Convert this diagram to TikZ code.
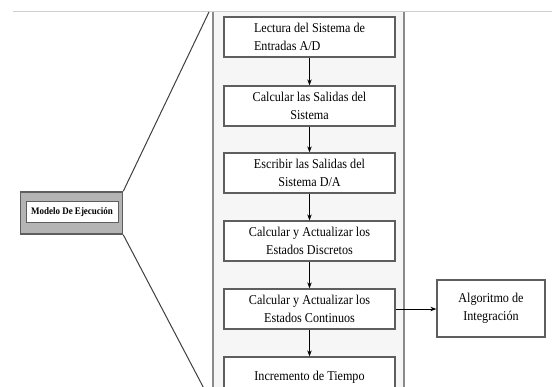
\documentclass[tikz,border=0pt]{standalone}
\usepackage{fontspec}
\setmainfont{Liberation Serif}
\newfontfamily\stepfont{Liberation Serif}[FakeStretch=0.9]
\usetikzlibrary{arrows.meta}
\definecolor{boxgray}{HTML}{5E5E5E}
\definecolor{panelline}{HTML}{8A8A8A}
\definecolor{panelfill}{HTML}{F6F6F6}
\definecolor{topline}{HTML}{CFCFCF}
\definecolor{modfill}{HTML}{B4B4B4}
\begin{document}
\begin{tikzpicture}[x=1pt,y=-1pt,
  stepbox/.style={draw=boxgray, line width=1.3pt, fill=white, minimum width=171pt, minimum height=40pt, inner sep=0pt, font=\stepfont\fontsize{13.5}{17.5}\selectfont, align=center},
  algbox/.style={draw=boxgray, line width=1.3pt, fill=white, minimum width=108pt, minimum height=57pt, inner sep=0pt, font=\stepfont\fontsize{13.5}{17.5}\selectfont, align=center},
  arr/.style={-{Stealth[length=6pt,width=4.5pt]}, line width=0.9pt, black},
  zoomline/.style={line width=1pt, black!75}]
\useasboundingbox (0,0) rectangle (552,387);
\fill[white] (0,0) rectangle (552,387);
\clip (0,0) rectangle (552,387);
% top line
\draw[topline, line width=1.2pt] (13,11.5) -- (552,11.5);
% panel
\fill[panelfill] (213,12) rectangle (404,400);
\draw[panelline, line width=1.4pt] (213,12) -- (213,400);
\draw[panelline, line width=1.4pt] (404,12) -- (404,400);
% model box
\node[draw=boxgray, line width=1.5pt, fill=modfill, minimum width=102pt, minimum height=42pt, inner sep=0pt] (mod) at (71.5,213) {};
\node[draw=boxgray, line width=1pt, fill=white, minimum width=92pt, minimum height=21pt, inner sep=0pt, font=\stepfont\fontsize{10}{11}\selectfont\bfseries] (modin) at (72,212.5) {Modelo De Ejecución};
% zoom lines
\coordinate (ztop) at (209,12);
\coordinate (zbot) at (210,400);
\draw[zoomline] (mod.north east) -- (ztop);
\draw[zoomline] (mod.south east) -- (zbot);
% steps
\node[stepbox, align=left] (b1) at (309.5,37) {Lectura del Sistema de\\Entradas A/D};
\node[stepbox] (b2) at (309.5,106) {Calcular las Salidas del\\Sistema};
\node[stepbox] (b3) at (309.5,173) {Escribir las Salidas del\\Sistema D/A};
\node[stepbox] (b4) at (309.5,241) {Calcular y Actualizar los\\Estados Discretos};
\node[stepbox] (b5) at (309.5,309) {Calcular y Actualizar los\\Estados Continuos};
\node[stepbox] (b6) at (309.5,377) {Incremento de Tiempo};
\node[algbox] (alg) at (491,308.5) {Algoritmo de\\Integración};
\draw[arr] (b1) -- (b2);
\draw[arr] (b2) -- (b3);
\draw[arr] (b3) -- (b4);
\draw[arr] (b4) -- (b5);
\draw[arr] (b5) -- (b6);
\draw[arr] (b5.east) -- (b5.east -| alg.west);
\end{tikzpicture}
\end{document}
